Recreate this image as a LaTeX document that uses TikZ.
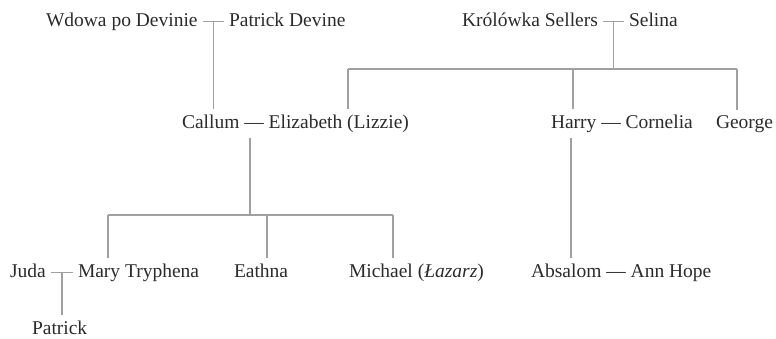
\documentclass[tikz,border=0pt]{standalone}
\usepackage{fontspec}
\setmainfont{Liberation Serif}
\usepackage{xcolor}
\usepackage{tikz}
\definecolor{ink}{HTML}{2B2B2B}
\definecolor{wire}{HTML}{A0A0A0}

\begin{document}
\begin{tikzpicture}[x=1pt, y=-1pt,
  person/.style={anchor=base west, inner sep=0pt, outer sep=5.5pt, text=ink,
                 xshift=-5.5pt, font=\fontsize{19.5}{22}\selectfont},
  tie/.style={draw=wire, line width=1.4pt}]
\useasboundingbox (0,0) rectangle (776,338);

% generation 1
\node[person] (wdowa) at (46,26) {Wdowa po Devinie};
\node[person] (pdevine) at (229,26) {Patrick Devine};
\node[person] (krolowka) at (462,26) {Królówka Sellers};
\node[person] (selina) at (629,26) {Selina};

% generation 2
\node[person] (callum) at (182,128) {Callum — Elizabeth (Lizzie)};
\node[person] (harry) at (551,128) {Harry — Cornelia};
\node[person] (george) at (716,128) {George};

% generation 3
\node[person] (juda) at (10,277) {Juda};
\node[person] (mary) at (78,277) {Mary Tryphena};
\node[person] (eathna) at (234,277) {Eathna};
\node[person] (michael) at (349,277) {Michael (\textit{Łazarz})};
\node[person] (absalom) at (531,277) {Absalom — Ann Hope};

% generation 4
\node[person] (patrick) at (32,334) {Patrick};

% marriages with children
\draw[tie] ([yshift=2pt]wdowa.mid east) -- ([yshift=2pt]pdevine.mid west) coordinate[midway] (wdTie);
\draw[tie] ([yshift=2pt]krolowka.mid east) -- ([yshift=2pt]selina.mid west) coordinate[midway] (krTie);
\draw[tie] ([yshift=2pt]juda.mid east) -- ([yshift=2pt]mary.mid west) coordinate[midway] (judaTie);

% Devine line
\draw[tie] (wdTie) -- (wdTie |- callum.north);

% Sellers children
\coordinate (lizzieUp) at (348,69);
\coordinate (harryUp) at (573,69);
\coordinate (georgeUp) at (737,69);
\draw[tie] (krTie) -- (krTie |- lizzieUp);
\draw[tie] (lizzieUp) -- (georgeUp);
\draw[tie] (lizzieUp) -- (lizzieUp |- callum.north);
\draw[tie] (harryUp) -- (harryUp |- harry.north);
\draw[tie] (georgeUp) -- (georgeUp |- george.north);

% Callum's children
\coordinate (callumDown) at (250,215);
\coordinate (maryUp) at (108,215);
\coordinate (eathnaUp) at (267,215);
\coordinate (michaelUp) at (393,215);
\draw[tie] (callumDown |- callum.south) -- (callumDown);
\draw[tie] (maryUp) -- (michaelUp);
\draw[tie] (maryUp) -- (maryUp |- mary.north);
\draw[tie] (eathnaUp) -- (eathnaUp |- eathna.north);
\draw[tie] (michaelUp) -- (michaelUp |- michael.north);

% Harry's son
\coordinate (harryDown) at (571,200);
\draw[tie] (harryDown |- harry.south) -- (harryDown |- absalom.north);

% Juda's son
\draw[tie] (judaTie) -- (judaTie |- patrick.north);
\end{tikzpicture}
\end{document}
